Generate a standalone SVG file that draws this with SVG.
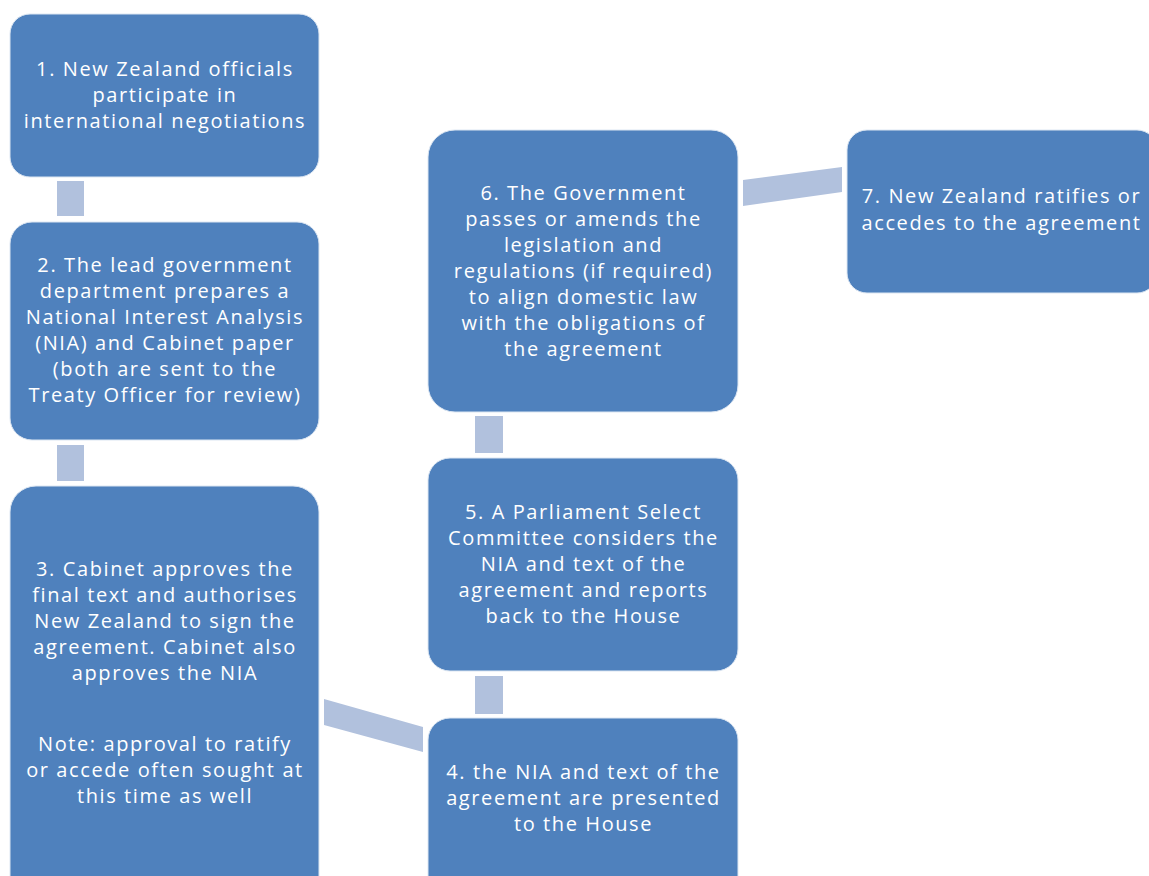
<svg xmlns="http://www.w3.org/2000/svg" width="1149" height="876" viewBox="0 0 1149 876">
<style>
.box{fill:#4F81BD;stroke:#DCE6F2;stroke-width:1}
.con{fill:#B1C1DD}
text{font-family:"Open Sans","Liberation Sans",sans-serif;font-size:20px;letter-spacing:1.6px;fill:#FFFFFF;text-anchor:middle;font-variant-ligatures:none}
</style>
<rect x="0" y="0" width="1149" height="876" fill="#FFFFFF"/>
<g id="connectors">
<rect class="con" x="57" y="181" width="27" height="35"/>
<rect class="con" x="57" y="445" width="27" height="36"/>
<polygon class="con" points="324,699 423,727 423,752 324,725"/>
<rect class="con" x="475" y="676" width="28" height="38"/>
<rect class="con" x="475" y="416" width="28" height="37"/>
<polygon class="con" points="743,180 842,167 842,192 743,206"/>
</g>
<g id="node1">
<rect class="box" x="10" y="14" width="309" height="163" rx="20"/>
<text x="165" y="76">1. New Zealand officials</text>
<text x="165" y="102">participate in</text>
<text x="165" y="128">international negotiations</text>
</g>
<g id="node2">
<rect class="box" x="10" y="222" width="309" height="218" rx="22"/>
<text x="165" y="272">2. The lead government</text>
<text x="165" y="298">department prepares a</text>
<text x="165" y="324">National Interest Analysis</text>
<text x="165" y="350">(NIA) and Cabinet paper</text>
<text x="165" y="376">(both are sent to the</text>
<text x="165" y="402">Treaty Officer for review)</text>
</g>
<g id="node3">
<rect class="box" x="10" y="486" width="309" height="420" rx="26"/>
<text x="165" y="576">3. Cabinet approves the</text>
<text x="165" y="602">final text and authorises</text>
<text x="165" y="628">New Zealand to sign the</text>
<text x="165" y="654">agreement. Cabinet also</text>
<text x="165" y="680">approves the NIA</text>
<text x="165" y="751">Note: approval to ratify</text>
<text x="165" y="777">or accede often sought at</text>
<text x="165" y="803">this time as well</text>
</g>
<g id="node4">
<rect class="box" x="428" y="718" width="310" height="190" rx="22"/>
<text x="583.5" y="779">4. the NIA and text of the</text>
<text x="583.5" y="805">agreement are presented</text>
<text x="583.5" y="831">to the House</text>
</g>
<g id="node5">
<rect class="box" x="428" y="458" width="310" height="213" rx="22"/>
<text x="583.5" y="519">5. A Parliament Select</text>
<text x="583.5" y="545">Committee considers the</text>
<text x="583.5" y="571">NIA and text of the</text>
<text x="583.5" y="597">agreement and reports</text>
<text x="583.5" y="623">back to the House</text>
</g>
<g id="node6">
<rect class="box" x="428" y="130" width="310" height="282" rx="27"/>
<text x="583.5" y="200">6. The Government</text>
<text x="583.5" y="226">passes or amends the</text>
<text x="583.5" y="252">legislation and</text>
<text x="583.5" y="278">regulations (if required)</text>
<text x="583.5" y="304">to align domestic law</text>
<text x="583.5" y="330">with the obligations of</text>
<text x="583.5" y="356">the agreement</text>
</g>
<g id="node7">
<rect class="box" x="847" y="130" width="310" height="163" rx="20"/>
<text x="1001.5" y="203">7. New Zealand ratifies or</text>
<text x="1001.5" y="230">accedes to the agreement</text>
</g>
</svg>
